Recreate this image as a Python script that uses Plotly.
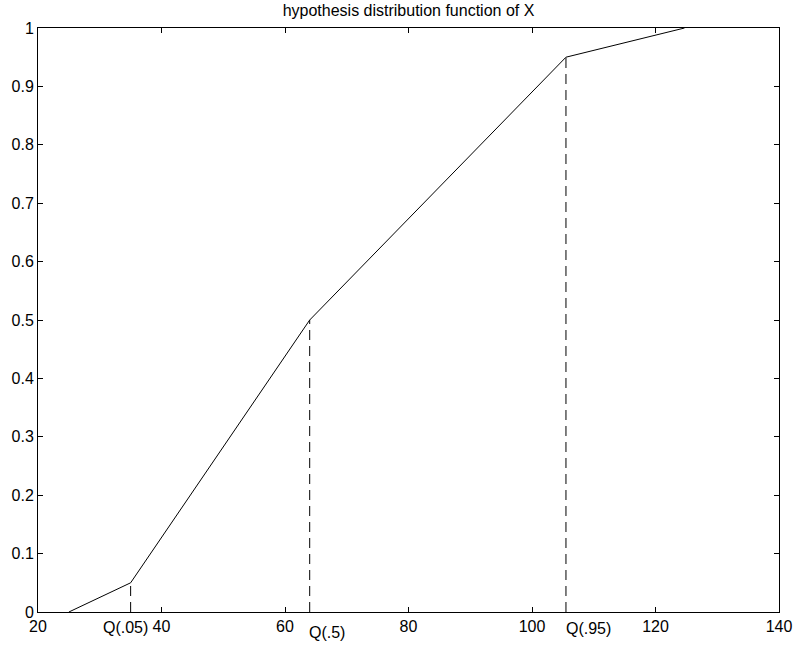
import plotly.graph_objects as go

# Data
cdf_x = [25, 35, 64, 105.5, 124.7]
cdf_y = [0, 0.05, 0.5, 0.95, 1.0]
q_labels = ["Q(.05)", "Q(.5)", "Q(.95)"]
q_x = [35, 64, 105.5]
q_p = [0.05, 0.5, 0.95]
x_ticks = [20, 40, 60, 80, 100, 120, 140]
y_ticks = [0, 0.1, 0.2, 0.3, 0.4, 0.5, 0.6, 0.7, 0.8, 0.9, 1]
y_ticklabels = ["0", "0.1", "0.2", "0.3", "0.4", "0.5", "0.6", "0.7", "0.8", "0.9", "1"]

fig = go.Figure()
fig.add_trace(go.Scatter(x=cdf_x, y=cdf_y, mode="lines",
                         line=dict(color="black", width=1), showlegend=False))
for qx, qp in zip(q_x, q_p):
    fig.add_trace(go.Scatter(x=[qx, qx], y=[0, qp], mode="lines",
                             line=dict(color="black", width=1, dash="10px,6px"),
                             showlegend=False))

font = dict(family="Liberation Sans, Arial, sans-serif", size=16, color="black")

# Quantile labels
label_cfg = [
    dict(xanchor="center", xshift=-5, yshift=-6),
    dict(xanchor="left", xshift=-2, yshift=-11),
    dict(xanchor="left", xshift=-1, yshift=-7),
]
for lab, qx, cfg in zip(q_labels, q_x, label_cfg):
    fig.add_annotation(x=qx, y=0, xref="x", yref="paper", text=lab, showarrow=False,
                       xanchor=cfg["xanchor"], yanchor="top", xshift=cfg["xshift"],
                       yshift=cfg["yshift"], font=font, borderpad=0)

axis_common = dict(showline=True, linecolor="black", linewidth=1, mirror="ticks",
                   ticks="inside", ticklen=5, tickcolor="black", tickwidth=1,
                   showgrid=False, zeroline=False, tickfont=font, automargin=False)
fig.update_xaxes(range=[20, 140], tickvals=x_ticks, ticktext=[str(v) for v in x_ticks], **axis_common)
fig.update_yaxes(range=[0, 1], tickvals=y_ticks, ticktext=y_ticklabels, **axis_common)

fig.update_layout(
    width=796, height=648,
    margin=dict(l=38, r=17, t=28, b=36, autoexpand=False),
    paper_bgcolor="white", plot_bgcolor="white",
    title=dict(text="hypothesis distribution function of X", x=0.5, xref="paper",
               xanchor="center", y=1 - 10 / 648, yanchor="middle", font=font,
               automargin=False),
    showlegend=False,
)

fig.write_html("out.html", config={"displayModeBar": False},
               post_script="document.body.style.margin='0';document.body.style.overflow='hidden';")
